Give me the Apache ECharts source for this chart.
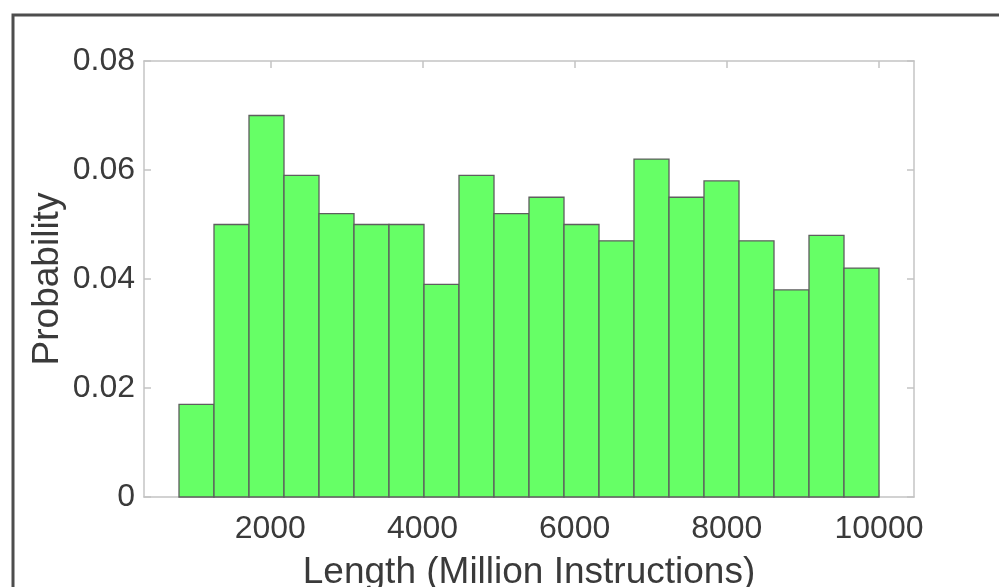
<!DOCTYPE html>
<html>
<head>
<meta charset="utf-8">
<script src="https://cdn.jsdelivr.net/npm/echarts@6/dist/echarts.min.js"></script>
<style>
  html, body { margin: 0; padding: 0; background: #ffffff; }
  #chart { width: 999px; height: 587px; }
</style>
</head>
<body>
<div id="chart"></div>
<script>
// Histogram of program lengths: 20 equal-width bins from 800 to 10000 (million instructions)
const binEdges = [800, 1260, 1720, 2180, 2640, 3100, 3560, 4020, 4480, 4940, 5400,
                  5860, 6320, 6780, 7240, 7700, 8160, 8620, 9080, 9540, 10000];
const probabilities = [0.017, 0.050, 0.070, 0.059, 0.052, 0.050, 0.050, 0.039, 0.059, 0.052,
                       0.055, 0.050, 0.047, 0.062, 0.055, 0.058, 0.047, 0.038, 0.048, 0.042];
const xTicks = [2000, 4000, 6000, 8000, 10000];
const xRange = [340, 10460];
const yRange = [0, 0.08];
const yStep = 0.02;

const barData = probabilities.map((p, i) => [binEdges[i], binEdges[i + 1], p]);

const FONT = '"Liberation Sans", Arial, Helvetica, sans-serif';
const BOX = '#c4c4c4';
const TEXT = '#3a3a3a';

const chart = echarts.init(document.getElementById('chart'), null, { renderer: 'canvas' });

const xCommon = {
  type: 'value',
  min: xRange[0],
  max: xRange[1],
  axisLine: { show: true, onZero: false, lineStyle: { color: BOX, width: 1.5 } },
  axisTick: { show: true, inside: true, length: 7, customValues: xTicks, lineStyle: { color: BOX, width: 1.5 } },
  splitLine: { show: false }
};
const yCommon = {
  type: 'value',
  min: yRange[0],
  max: yRange[1],
  interval: yStep,
  axisLine: { show: true, onZero: false, lineStyle: { color: BOX, width: 1.5 } },
  axisTick: { show: true, inside: true, length: 7, lineStyle: { color: BOX, width: 1.5 } },
  splitLine: { show: false }
};

chart.setOption({
  animation: false,
  backgroundColor: '#ffffff',
  grid: { left: 144, top: 61, right: 85, bottom: 90, containLabel: false, outerBoundsMode: 'none' },
  graphic: [{
    type: 'rect',
    silent: true,
    z: 100,
    shape: { x: 13, y: 15, width: 1100, height: 700 },
    style: { fill: 'none', stroke: '#4d4d4d', lineWidth: 3 }
  }],
  xAxis: [
    Object.assign({}, xCommon, {
      position: 'bottom',
      name: 'Length (Million Instructions)',
      nameLocation: 'middle',
      nameGap: 57,
      nameMoveOverlap: false,
      nameTextStyle: { fontFamily: FONT, fontSize: 37, color: TEXT },
      axisLabel: {
        show: true, customValues: xTicks, margin: 16,
        fontFamily: FONT, fontSize: 32, color: TEXT,
        formatter: v => String(v)
      }
    }),
    Object.assign({}, xCommon, {
      position: 'top',
      axisLabel: { show: false }
    })
  ],
  yAxis: [
    Object.assign({}, yCommon, {
      position: 'left',
      name: 'Probability',
      nameLocation: 'middle',
      nameGap: 78,
      nameMoveOverlap: false,
      nameTextStyle: { fontFamily: FONT, fontSize: 37, color: TEXT },
      axisLabel: {
        show: true, margin: 9,
        fontFamily: FONT, fontSize: 32, color: TEXT,
        formatter: v => (v === 0 ? '0' : v.toFixed(2))
      }
    }),
    Object.assign({}, yCommon, {
      position: 'right',
      axisLabel: { show: false }
    })
  ],
  series: [{
    type: 'custom',
    xAxisIndex: 0,
    yAxisIndex: 0,
    data: barData,
    encode: { x: [0, 1], y: 2 },
    renderItem: function (params, api) {
      const p0 = api.coord([api.value(0), 0]);
      const p1 = api.coord([api.value(1), api.value(2)]);
      return {
        type: 'rect',
        shape: { x: p0[0], y: p1[1], width: p1[0] - p0[0], height: p0[1] - p1[1] },
        style: { fill: '#66ff66', stroke: '#5e5e5e', lineWidth: 1.3 }
      };
    }
  }]
});
</script>
</body>
</html>
